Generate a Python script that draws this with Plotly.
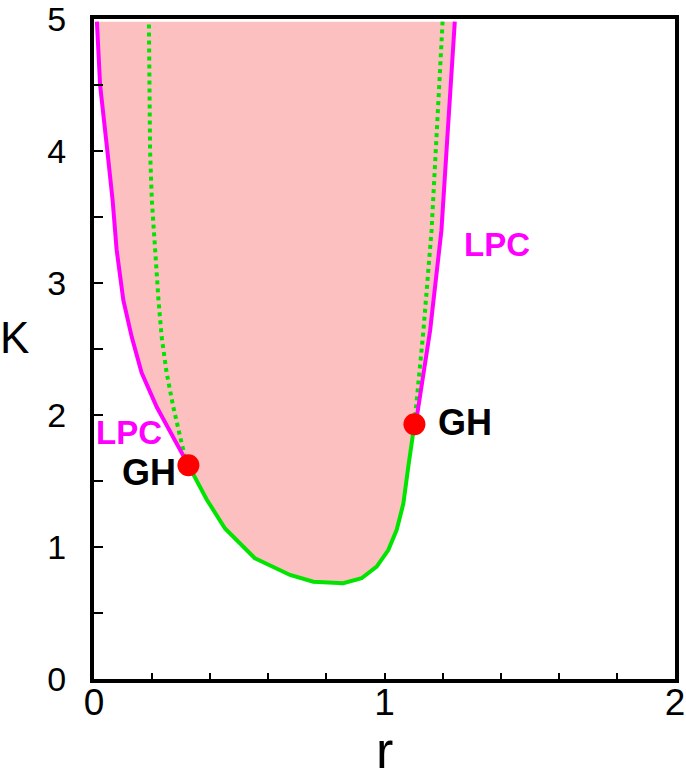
import plotly.graph_objects as go

# ---- data ----
# left LPC branch (top -> left GH)
r_lpc_left = [0.010, 0.021, 0.046, 0.064, 0.078, 0.101, 0.130, 0.164, 0.216, 0.267, 0.313, 0.325]
K_lpc_left = [4.98, 4.50, 4.00, 3.63, 3.25, 2.87, 2.59, 2.32, 2.06, 1.86, 1.68, 1.62]

# Hopf curve (left GH -> right GH)
r_hopf = [0.325, 0.348, 0.388, 0.451, 0.554, 0.675, 0.755, 0.858, 0.921, 0.973, 1.013, 1.042, 1.065, 1.082, 1.096, 1.103]
K_hopf = [1.62, 1.53, 1.36, 1.14, 0.914, 0.788, 0.737, 0.725, 0.763, 0.851, 0.977, 1.13, 1.33, 1.61, 1.81, 1.93]

# right LPC branch (right GH -> top)
r_lpc_right = [1.103, 1.113, 1.157, 1.196, 1.214, 1.231, 1.242]
K_lpc_right = [1.93, 2.01, 2.64, 3.40, 4.02, 4.65, 4.98]

# unstable (dotted) Hopf continuations
r_dot_left = [0.325, 0.313, 0.294, 0.273, 0.250, 0.233, 0.222, 0.210, 0.199, 0.193, 0.190, 0.189]
K_dot_left = [1.62, 1.68, 1.86, 2.06, 2.32, 2.59, 2.87, 3.25, 3.63, 4.00, 4.50, 4.98]
r_dot_right = [1.103, 1.134, 1.162, 1.177, 1.191, 1.200]
K_dot_right = [1.93, 2.64, 3.40, 4.02, 4.53, 4.98]

# generalized Hopf points
r_gh = [0.325, 1.103]
K_gh = [1.62, 1.93]

x_tickvals = [0, 0.2, 0.4, 0.6, 0.8, 1, 1.2, 1.4, 1.6, 1.8, 2]
x_ticktext = ["0", "", "", "", "", "1", "", "", "", "", "2"]
y_tickvals = [0, 0.5, 1, 1.5, 2, 2.5, 3, 3.5, 4, 4.5, 5]
y_ticktext = ["0", "", "1", "", "2", "", "3", "", "4", "", "5"]

GREEN = "#00e400"
MAGENTA = "#ff00ff"
FONT = "Liberation Sans, Arial, sans-serif"

fig = go.Figure()

# shaded region bounded by LPC and Hopf curves
fig.add_trace(go.Scatter(
    x=r_lpc_left + r_hopf + r_lpc_right,
    y=K_lpc_left + K_hopf + K_lpc_right,
    fill="toself", fillcolor="#fdc0c0",
    line=dict(width=0), mode="lines", hoverinfo="skip"))

fig.add_trace(go.Scatter(x=r_dot_left, y=K_dot_left, mode="lines",
                         line=dict(color=GREEN, width=4, dash="dot")))
fig.add_trace(go.Scatter(x=r_dot_right, y=K_dot_right, mode="lines",
                         line=dict(color=GREEN, width=4, dash="dot")))
fig.add_trace(go.Scatter(x=r_lpc_left, y=K_lpc_left, mode="lines",
                         line=dict(color=MAGENTA, width=4)))
fig.add_trace(go.Scatter(x=r_lpc_right, y=K_lpc_right, mode="lines",
                         line=dict(color=MAGENTA, width=4)))
fig.add_trace(go.Scatter(x=r_hopf, y=K_hopf, mode="lines",
                         line=dict(color=GREEN, width=4)))
fig.add_trace(go.Scatter(x=r_gh, y=K_gh, mode="markers",
                         marker=dict(color="#ff0000", size=22)))

# labels
labels = [
    ("LPC", 0.119, 1.871, MAGENTA, 33),
    ("LPC", 1.386, 3.288, MAGENTA, 33),
    ("GH", 0.188, 1.564, "black", 36),
    ("GH", 1.277, 1.947, "black", 36),
]
for txt, lx, ly, col, sz in labels:
    fig.add_annotation(x=lx, y=ly, text="<b>%s</b>" % txt, showarrow=False,
                       font=dict(family=FONT, size=sz, color=col))

# axis titles (K is upright in the original)
fig.add_annotation(xref="paper", yref="paper", x=-0.136, y=0.517, text="K",
                   showarrow=False, xanchor="center", yanchor="middle",
                   font=dict(family=FONT, size=44, color="black"))
fig.add_annotation(xref="paper", yref="paper", x=0.5, y=-0.108, text="r",
                   showarrow=False, xanchor="center", yanchor="middle",
                   font=dict(family=FONT, size=52, color="black"))

fig.update_layout(
    width=686, height=784,
    margin=dict(l=94, r=11, t=19, b=105),
    plot_bgcolor="white", paper_bgcolor="white",
    showlegend=False,
    font=dict(family=FONT, color="black"),
)
fig.update_xaxes(range=[0, 2], tickvals=x_tickvals, ticktext=x_ticktext,
                 ticks="inside", ticklen=6, tickwidth=1.5, tickcolor="black",
                 showline=True, linecolor="black", linewidth=4, mirror=True,
                 showgrid=False, zeroline=False, automargin=False,
                 tickfont=dict(size=37), ticklabelstandoff=-12,
                 ticklabeloverflow="allow")
fig.update_yaxes(range=[0, 5], tickvals=y_tickvals, ticktext=y_ticktext,
                 ticks="inside", ticklen=9, tickwidth=1.5, tickcolor="black",
                 showline=True, linecolor="black", linewidth=4, mirror=True,
                 showgrid=False, zeroline=False, automargin=False,
                 tickfont=dict(size=34), ticklabelstandoff=17,
                 ticklabeloverflow="allow")

# drop the default 8px page margin so the figure fills the window
fig.write_html("out.html", config={"displayModeBar": False},
               post_script="document.body.style.margin='0';")
